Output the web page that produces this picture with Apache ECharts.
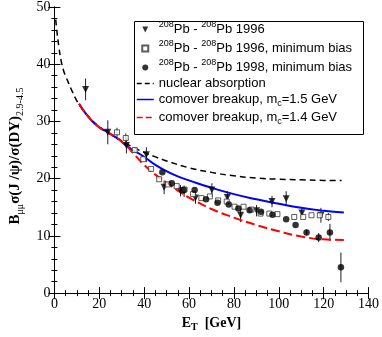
<!DOCTYPE html>
<html>
<head>
<meta charset="utf-8">
<script src="https://cdn.jsdelivr.net/npm/echarts@6/dist/echarts.min.js"></script>
<style>
  html, body { margin: 0; padding: 0; background: #fff; }
  #chart { width: 382px; height: 337px; }
</style>
</head>
<body>
<div id="chart"></div>
<script>
// data: [E_T, ratio, error]
const pb96 = [[13.9,35.6,1.9],[23.8,28.1,2.1],[32.1,25.8,1.4],[41.0,24.2,1.3],[48.9,18.5,1.2],
  [56.2,17.9,1.0],[57.8,17.8,1.0],[62.9,16.6,1.0],[70.2,18.0,1.2],[77.1,16.7,1.1],[83.0,13.6,1.2],
  [90.1,14.4,1.0],[97.0,16.0,1.0],[103.3,16.5,1.3],[110.3,14.0,0.8],[118.8,13.6,1.3]];
const pb96mb = [[27.9,28.1,0.8],[31.8,27.1,0.8],[35.8,25.0,0],[39.6,23.4,0],[43.1,21.7,0],[46.7,19.9,0],
  [50.6,19.0,0],[54.5,18.7,0],[58.0,18.1,0],[61.8,17.3,0],[65.5,16.6,0],[69.3,16.9,0],[73.0,16.2,0],
  [76.8,16.0,0],[80.3,15.1,0],[84.3,15.1,0],[87.8,14.6,0],[91.9,13.9,0],[95.8,13.9,0],[99.4,13.8,0],
  [106.9,13.3,0],[110.9,13.3,0],[114.6,13.6,0],[118.3,13.6,0],[122.1,13.3,0.7]];
const pb98mb = [[48.1,21.1,0],[52.3,19.2,0],[57.6,18.0,0],[62.5,18.0,0],[67.6,16.4,0],[72.7,15.8,0],
  [77.7,15.5,0],[82.0,14.8,0],[87.0,14.5,0],[92.1,14.2,0],[97.2,13.7,0],[103.3,12.9,0],[107.5,11.9,0],
  [112.4,10.6,0.5],[117.8,9.7,0.8],[122.8,10.6,1.5],[127.7,4.5,2.6]];

// model curves
const nuclearAbs = [[0.6,47.8],[1,46.2],[2,43.0],[3,40.6],[4,39.0],[5,37.9],[6,37.0],[8,35.2],[10,33.6],
  [12,32.4],[15,30.9],[20,29.1],[25,27.8],[30,26.6],[35,25.5],[40,24.6],[45,23.8],[50,23.1],[60,21.9],
  [70,21.1],[80,20.5],[90,20.1],[100,19.9],[110,19.8],[120,19.7],[128,19.7]];
const comover15 = [[11,33.1],[13,31.9],[15,30.9],[17,30.0],[19,29.3],[21,28.7],[23,28.3],[25,27.8],
  [27,27.3],[29,26.8],[31,26.1],[33,25.5],[35,25.0],[40,23.8],[45,22.4],[50,21.3],[55,20.4],[60,19.7],
  [70,18.4],[80,17.3],[90,16.4],[100,15.6],[110,14.9],[120,14.4],[129,14.1]];
const comover14 = [[11,33.1],[13,31.9],[15,30.9],[17,30.0],[19,29.3],[21,28.7],[23,28.3],[25,27.8],
  [27,27.3],[29,26.8],[31,26.1],[33,25.4],[35,24.5],[40,22.4],[45,20.7],[50,19.3],[55,17.9],[60,16.7],
  [70,14.7],[80,13.2],[90,11.9],[100,10.8],[110,9.9],[120,9.4],[129,9.3]];

const xTicks = [0, 140, 20];
const yTicks = [0, 50, 10];

const legendText = {
  pb96: '{sup|208}{t|Pb - }{sup|208}{t|Pb 1996}',
  pb96mb: '{sup|208}{t|Pb - }{sup|208}{t|Pb 1996, minimum bias}',
  pb98mb: '{sup|208}{t|Pb - }{sup|208}{t|Pb 1998, minimum bias}',
  nuc: '{s|nuclear absorption}',
  c15: '{s|comover breakup, m}{sub|c}{s|=1.5 GeV}',
  c14: '{s|comover breakup, m}{sub|c}{s|=1.4 GeV}'
};

const chart = echarts.init(document.getElementById('chart'));

function errorBars(params, api) {
  const x = api.value(0), y = api.value(1), e = api.value(2);
  if (!e) return null;
  const lo = api.coord([x, y - e]), hi = api.coord([x, y + e]);
  return { type: 'line', shape: { x1: lo[0], y1: lo[1], x2: hi[0], y2: hi[1] },
    style: { stroke: '#222', lineWidth: 1 } };
}

const serif = 'Liberation Serif';
const sans = 'Liberation Sans';
const tickStyle = { show: true, inside: true, length: 6, lineStyle: { color: '#000' } };
const minorStyle = { show: true, length: 3, lineStyle: { color: '#000' } };
const squarePath = 'path://M0,0 L10,0 L10,10 L0,10 Z';
const trianglePath = 'path://M0,0 L10,0 L5,10 Z';

const option = {
  animation: false,
  grid: { left: 40, top: 5, right: 12, bottom: 39 },
  xAxis: [{
    type: 'value', min: xTicks[0], max: xTicks[1], interval: xTicks[2],
    axisLine: { lineStyle: { color: '#000' } },
    axisTick: tickStyle, minorTick: Object.assign({ splitNumber: 4 }, minorStyle),
    splitLine: { show: false },
    axisLabel: { fontFamily: serif, fontSize: 14, color: '#000', margin: 4 },
    name: '{b|E}{sub|T}{b|  [GeV]}', nameLocation: 'middle', nameGap: 15,
    nameTextStyle: { rich: {
      b: { fontFamily: serif, fontWeight: 'bold', fontSize: 14, color: '#000', lineHeight: 18 },
      sub: { fontFamily: serif, fontWeight: 'bold', fontSize: 10, color: '#000', verticalAlign: 'bottom', lineHeight: 18 }
    } }
  }, {
    type: 'value', position: 'top', min: xTicks[0], max: xTicks[1], interval: xTicks[2],
    axisLine: { lineStyle: { color: '#000' } },
    axisTick: tickStyle, minorTick: Object.assign({ splitNumber: 4 }, minorStyle),
    splitLine: { show: false }, axisLabel: { show: false }
  }],
  yAxis: [{
    type: 'value', min: yTicks[0], max: yTicks[1], interval: yTicks[2],
    axisLine: { show: true, lineStyle: { color: '#000' } },
    axisTick: tickStyle, minorTick: Object.assign({ splitNumber: 5 }, minorStyle),
    splitLine: { show: false },
    axisLabel: { fontFamily: serif, fontSize: 14, color: '#000', margin: 4 },
    name: '{b|B}{sub|μμ}{b|σ(J /ψ)/σ(DY)}{sub|2.9-4.5}', nameLocation: 'middle', nameGap: 19,
    nameRotate: 90,
    nameTextStyle: { padding: [0, 12, 0, 0], rich: {
      b: { fontFamily: serif, fontWeight: 'bold', fontSize: 15, color: '#000', lineHeight: 20 },
      sub: { fontFamily: serif, fontSize: 10, color: '#000', verticalAlign: 'bottom', lineHeight: 20 }
    } }
  }, {
    type: 'value', position: 'right', min: yTicks[0], max: yTicks[1], interval: yTicks[2],
    axisLine: { show: true, lineStyle: { color: '#000' } },
    axisTick: tickStyle, minorTick: Object.assign({ splitNumber: 5 }, minorStyle),
    splitLine: { show: false }, axisLabel: { show: false }
  }],
  legend: {
    orient: 'vertical', left: 136, top: 20, padding: 0, itemWidth: 17, itemHeight: 6, itemGap: 3,
    data: [
      { name: 'pb96' }, { name: 'pb96mb' }, { name: 'pb98mb' },
      { name: 'nuc', itemStyle: { opacity: 0 }, lineStyle: { type: [5, 3], width: 1.5 } },
      { name: 'c15', itemStyle: { opacity: 0 }, lineStyle: { width: 1.5 } },
      { name: 'c14', itemStyle: { opacity: 0 }, lineStyle: { type: [6, 3], width: 1.5 } }
    ],
    formatter: name => legendText[name],
    textStyle: { rich: {
      sup: { fontFamily: sans, fontSize: 9, color: '#000', verticalAlign: 'top', lineHeight: 19 },
      t: { fontFamily: sans, fontSize: 13, color: '#000', lineHeight: 19 },
      s: { fontFamily: sans, fontSize: 13, color: '#000', lineHeight: 17 },
      sub: { fontFamily: sans, fontSize: 9, color: '#000', verticalAlign: 'bottom', lineHeight: 17 }
    } }
  },
  graphic: [{
    type: 'rect', left: 132, top: 19, shape: { width: 229, height: 113 },
    style: { fill: 'none', stroke: '#000', lineWidth: 1 }, silent: true
  }],
  series: [
    { name: 'nuc', type: 'line', data: nuclearAbs, smooth: true, symbol: 'none',
      lineStyle: { color: '#000', width: 1.5, type: [6, 4] }, itemStyle: { color: '#000' } },
    { name: 'c15', type: 'line', data: comover15, smooth: true, symbol: 'none',
      lineStyle: { color: '#0000ff', width: 2 }, itemStyle: { color: '#0000ff' } },
    { name: 'c14', type: 'line', data: comover14, smooth: true, symbol: 'none',
      lineStyle: { color: '#ff0000', width: 2, type: [9, 4] }, itemStyle: { color: '#ff0000' } },
    { name: 'err96', type: 'custom', data: pb96, renderItem: errorBars, z: 3 },
    { name: 'err96mb', type: 'custom', data: pb96mb, renderItem: errorBars, z: 3 },
    { name: 'err98mb', type: 'custom', data: pb98mb, renderItem: errorBars, z: 3 },
    { name: 'pb96', type: 'scatter', data: pb96, symbol: trianglePath, symbolSize: 7,
      itemStyle: { color: '#000' }, z: 4 },
    { name: 'pb96mb', type: 'scatter', data: pb96mb, symbol: squarePath, symbolSize: 5,
      itemStyle: { color: '#fff', borderColor: '#333', borderWidth: 1 }, z: 4 },
    { name: 'pb98mb', type: 'scatter', data: pb98mb, symbol: 'circle', symbolSize: 6.5,
      itemStyle: { color: '#000' }, z: 4 }
  ]
};
chart.setOption(option);
</script>
</body>
</html>
